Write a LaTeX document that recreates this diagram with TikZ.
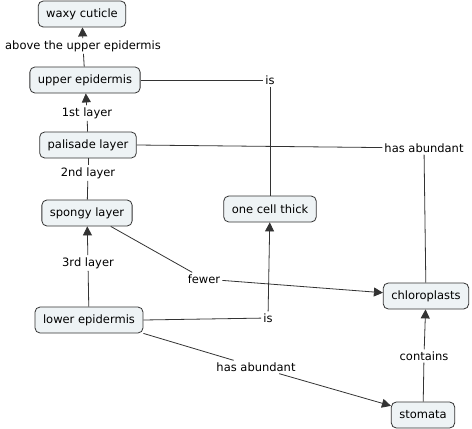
\documentclass[tikz,border=0pt]{standalone}
\usepackage{fontspec}
\setmainfont{DejaVu Sans}
\usetikzlibrary{arrows.meta}
\definecolor{conceptfill}{HTML}{EEF3F5}
\definecolor{linkgray}{HTML}{333333}
\tikzset{
  concept/.style={draw=black!80, fill=conceptfill, rounded corners=5pt,
    minimum height=26pt, inner xsep=8pt, line width=0.8pt},
  linkword/.style={inner sep=2pt, fill=white},
  link/.style={draw=linkgray, line width=0.8pt},
  linkarrow/.style={link, -{Triangle[length=9pt,width=9pt]}}
}
\begin{document}
\begin{tikzpicture}[x=1pt, y=-1pt, font=\fontsize{11.5}{13}\selectfont]
  \useasboundingbox (0,0) rectangle (472,429);
  % 概念节点
  \node[concept] (waxy) at (82,14) {waxy cuticle};
  \node[concept] (upper) at (85,80) {upper epidermis};
  \node[concept] (palisade) at (88,145) {palisade layer};
  \node[concept] (spongy) at (87,213) {spongy layer};
  \node[concept] (onecell) at (270,209) {one cell thick};
  \node[concept] (chloro) at (426,296) {chloroplasts};
  \node[concept] (lower) at (89,320) {lower epidermis};
  \node[concept] (stomata) at (423,415) {stomata};
  % 连接词
  \node[linkword] (above) at (83,46) {above the upper epidermis};
  \node[linkword] (isup) at (270,80) {is};
  \node[linkword] (first) at (87,113) {1st layer};
  \node[linkword] (abundup) at (424,148) {has abundant};
  \node[linkword] (second) at (88,173) {2nd layer};
  \node[linkword] (third) at (88,263) {3rd layer};
  \node[linkword] (fewer) at (204,279) {fewer};
  \node[linkword] (islow) at (268,318) {is};
  \node[linkword] (abundlow) at (256,367) {has abundant};
  \node[linkword] (contains) at (424,356) {contains};
  % 上表皮 -> 角质层
  \draw[link] (upper) -- (above);
  \draw[linkarrow] (above) -- (waxy);
  % 栅栏层 -> 上表皮
  \draw[link] (palisade) -- (first);
  \draw[linkarrow] (first) -- (upper);
  % 栅栏层 -- 海绵层
  \draw[link] (palisade) -- (second);
  \draw[link] (second) -- (spongy);
  % 上表皮 is 一层细胞
  \draw[link] (upper.east) -- (isup);
  \draw[link] (isup) -- (onecell);
  % 栅栏层 has abundant 叶绿体
  \draw[link] (palisade.east) -- (abundup);
  \draw[link] (abundup) -- (chloro);
  % 海绵层 fewer 叶绿体
  \draw[link] (spongy) -- (fewer);
  \draw[linkarrow] (fewer) -- (chloro);
  % 下表皮
  \draw[link] (lower) -- (third);
  \draw[linkarrow] (third) -- (spongy);
  \draw[link] (lower.east) -- (islow);
  \draw[linkarrow] (islow) -- (onecell);
  \draw[link] (lower.south east) -- (abundlow);
  \draw[linkarrow] (abundlow) -- (stomata);
  % 气孔 contains 叶绿体
  \draw[link] (stomata) -- (contains);
  \draw[linkarrow] (contains) -- (chloro);
\end{tikzpicture}
\end{document}
